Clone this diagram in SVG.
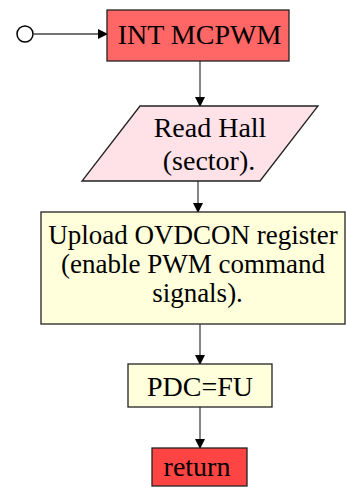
<svg xmlns="http://www.w3.org/2000/svg" width="346" height="487" viewBox="0 0 346 487">
<style>
.n{stroke:#222;stroke-width:1.3}
.t{font-family:"Liberation Serif",serif;font-size:28px;fill:#000;text-anchor:middle}
.s{font-size:27px}
.c{stroke:#444;stroke-width:1.3;fill:none}
</style>
<defs>
<marker id="ah" markerWidth="10" markerHeight="10" refX="9" refY="5" orient="auto" markerUnits="userSpaceOnUse">
<path d="M0,0 L10,5 L0,10 Z" fill="#000"/>
</marker>
</defs>
<rect width="346" height="487" fill="#fff"/>
<g id="connectors">
<circle cx="25" cy="34" r="8" fill="#fff" stroke="#000" stroke-width="1.5"/>
<line x1="33" y1="34" x2="107" y2="34" class="c" stroke="#000" marker-end="url(#ah)"/>
<line x1="200" y1="61" x2="200" y2="106" class="c" marker-end="url(#ah)"/>
<line x1="198" y1="181" x2="198" y2="212" class="c" marker-end="url(#ah)"/>
<line x1="200" y1="324" x2="200" y2="364" class="c" marker-end="url(#ah)"/>
<line x1="200" y1="407" x2="200" y2="448" class="c" marker-end="url(#ah)"/>
</g>
<g id="int">
<rect x="107" y="10" width="182" height="51" fill="#FF6666" class="n"/>
<text x="199.5" y="44" class="t">INT MCPWM</text>
</g>
<g id="readhall">
<polygon points="140,106 318,106 260,181 82,181" fill="#FFE1E8" class="n"/>
<text x="210" y="137" class="t">Read Hall</text>
<text x="209" y="170" class="t">(sector).</text>
</g>
<g id="upload">
<rect x="41" y="212" width="304" height="112" fill="#FFFFDC" class="n"/>
<text x="193" y="244" class="t s">Upload OVDCON register</text>
<text x="193" y="273" class="t s">(enable PWM command</text>
<text x="197.5" y="302" class="t s">signals).</text>
</g>
<g id="pdc">
<rect x="128" y="364" width="144" height="43" fill="#FFFFDC" class="n"/>
<text x="200" y="396" class="t">PDC=FU</text>
</g>
<g id="return">
<rect x="152" y="448" width="95" height="38" fill="#FF4444" class="n"/>
<text x="197" y="476" class="t">return</text>
</g>
</svg>
